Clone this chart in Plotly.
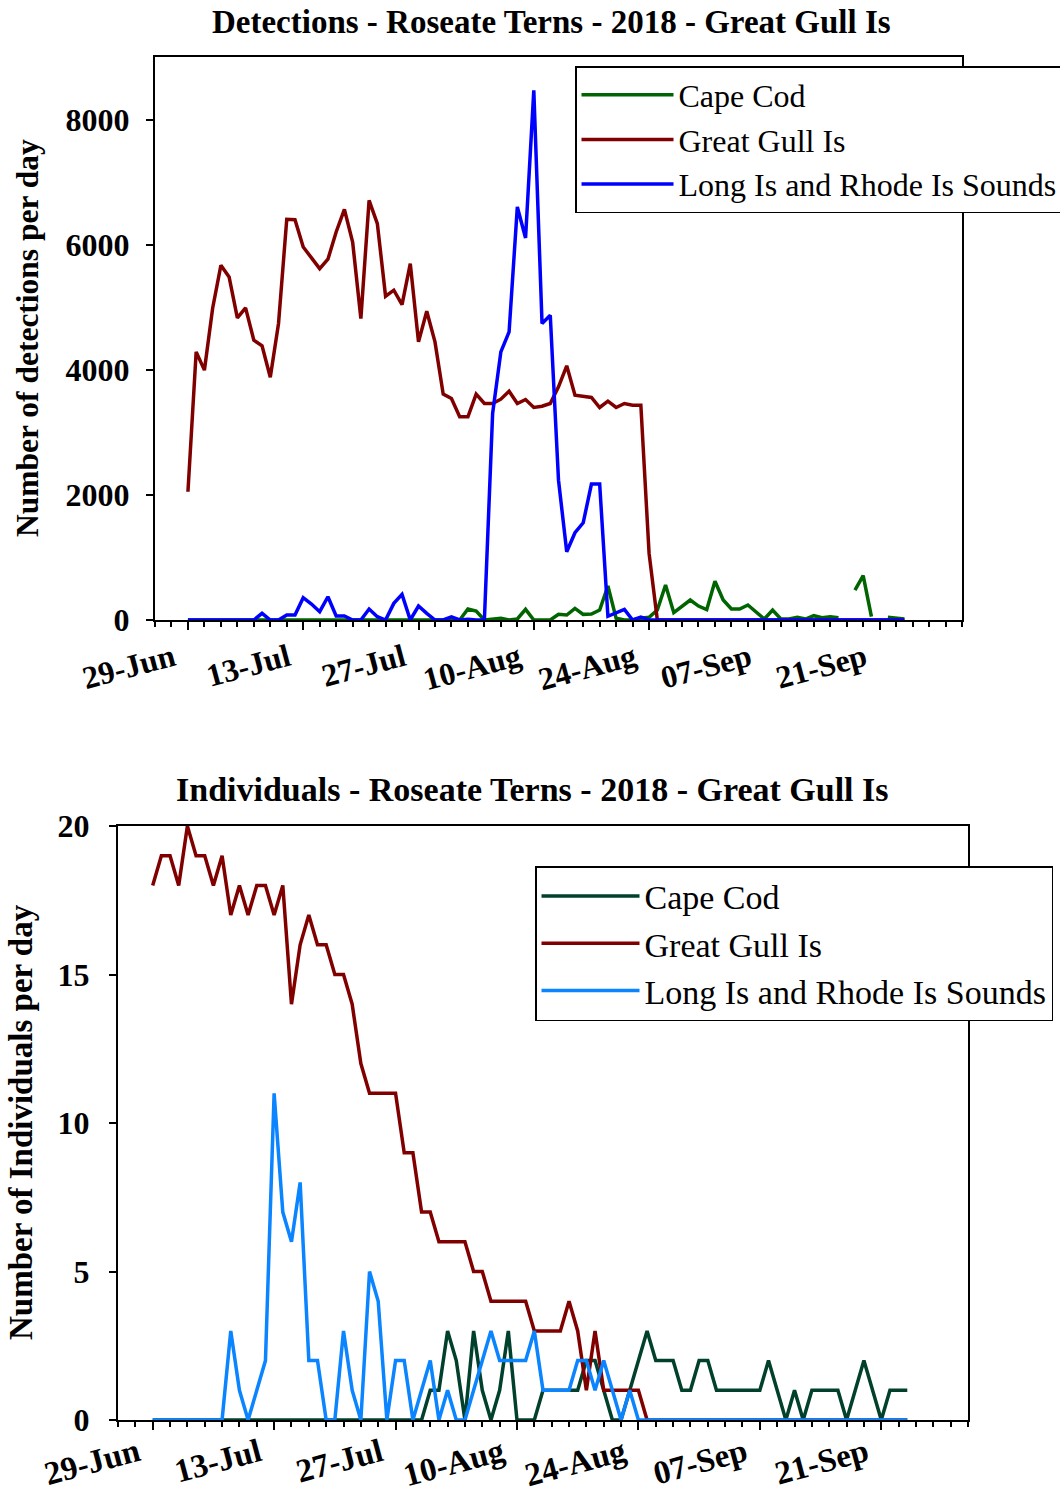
import plotly.graph_objects as go
import pandas as pd

# ---------------- data ----------------
start_date = "2018-06-29"
n_days = 88

tick_dates = ["2018-06-29", "2018-07-13", "2018-07-27", "2018-08-10",
              "2018-08-24", "2018-09-07", "2018-09-21"]
tick_labels = ["29-Jun", "13-Jul", "27-Jul", "10-Aug", "24-Aug", "07-Sep", "21-Sep"]

series_names = ["Cape Cod", "Great Gull Is", "Long Is and Rhode Is Sounds"]

# Detections per day (top chart)
det_cape_cod = [0] * 33 + [
    0, 176, 144, 0, 16, 27, 0, 16, 170, 0, 0, 0, 90, 80, 186, 90, 96, 160, 543, 27,
    0, 0, 27, 43, 160, 559, 117, 223, 319, 223, 165, 620, 319, 176, 176, 240, 133,
    16, 160, 16, 16, 43, 16, 69, 37, 53, 37, None, 479, 708, 53, None, 43, 30, 16]

det_great_gull = [
    2050, 4286, 3994, 4984, 5670, 5484, 4830, 4990, 4473, 4382, 3880, 4740, 6406,
    6400, 5963, 5800, 5617, 5767, 6203, 6565, 6043, 4819, 6709, 6337, 5176, 5272,
    5043, 5698, 4446, 4936, 4446, 3610, 3541, 3248, 3248, 3610, 3461, 3461, 3530,
    3658, 3461, 3525, 3397, 3418, 3461, 3727, 4063, 3594, 3578, 3557, 3397, 3498,
    3397, 3461, 3434, 3434, 1065] + [0] * 31

det_long_is = [0] * 9 + [
    107, 0, 0, 80, 80, 356, 255, 133, 372, 64, 64, 0, 0, 176, 53, 0, 266, 410, 0,
    224, 107, 0, 0, 50, 0, 10, 0, 0, 3302, 4286, 4606, 6603, 6107, 8466, 4739,
    4872, 2236, 1091, 1395, 1554, 2173, 2173, 60, 110, 170, 0, 45] + [0] * 32

# Individuals per day (bottom chart)
ind_cape_cod = [0] * 32 + [
    1, 1, 3, 2, 0, 3, 1, 0, 1, 3, 0, 0, 0, 1, 1, 1, 1, 1, 2, 2, 1, 0, 0, 1, 2, 3,
    2, 2, 2, 1, 1, 2, 2, 1, 1, 1, 1, 1, 1, 2, 1, 0, 1, 0, 1, 1, 1, 1, 0, 1, 2, 1,
    0, 1, 1, 1]

ind_great_gull = [
    18, 19, 19, 18, 20, 19, 19, 18, 19, 17, 18, 17, 18, 18, 17, 18, 14, 16, 17,
    16, 16, 15, 15, 14, 12, 11, 11, 11, 11, 9, 9, 7, 7, 6, 6, 6, 6, 5, 5, 4, 4, 4,
    4, 4, 3, 3, 3, 3, 4, 3, 1, 3, 1, 1, 1, 1, 1, 0] + [0] * 30

ind_long_is = [0] * 9 + [
    3, 1, 0, 1, 2, 11, 7, 6, 8, 2, 2, 0, 0, 3, 1, 0, 5, 4, 0, 2, 2, 0, 1, 2, 0, 1,
    0, 0, 1, 2, 3, 2, 2, 2, 2, 3, 1, 1, 1, 1, 2, 2, 1, 2, 1, 0, 1, 0] + [0] * 31

dates = pd.date_range(start_date, periods=n_days, freq="D")

# ---------------- figure ----------------
W, H = 1060, 1494
FONT = "Liberation Serif, Times New Roman, serif"

top_colors = ["#006400", "#800000", "#0000FF"]
bot_colors = ["#00402C", "#800000", "#0A84FF"]

fig = go.Figure()
for name, vals, col in zip(series_names, [det_cape_cod, det_great_gull, det_long_is], top_colors):
    fig.add_trace(go.Scatter(x=dates, y=vals, name=name, mode="lines",
                             line=dict(color=col, width=3.5), cliponaxis=False,
                             xaxis="x", yaxis="y", legend="legend"))
for name, vals, col in zip(series_names, [ind_cape_cod, ind_great_gull, ind_long_is], bot_colors):
    fig.add_trace(go.Scatter(x=dates, y=vals, name=name, mode="lines",
                             line=dict(color=col, width=3.5), cliponaxis=False,
                             xaxis="x2", yaxis="y2", legend="legend2"))


def px_x(p):
    return p / W


def px_y(p):
    return 1 - p / H


def xaxis_style(domain, anchor, fsize, standoff):
    return dict(
        domain=domain, anchor=anchor, type="date", automargin=False,
        range=["2018-06-25", "2018-10-01"],
        tickmode="array", tickvals=tick_dates, ticktext=tick_labels,
        tickangle=-15, ticks="outside", ticklen=8, tickwidth=1.5, tickcolor="black",
        tickfont=dict(family=FONT, size=fsize, color="black", weight="bold"),
        minor=dict(dtick=2 * 86400000, tick0=start_date, ticks="outside",
                   ticklen=5, tickwidth=1.5, tickcolor="black", showgrid=False),
        showline=True, linecolor="black", linewidth=2, mirror=True,
        showgrid=False, zeroline=False, layer="below traces",
        ticklabelstandoff=standoff, ticklabelshift=-15,
    )


def yaxis_style(domain, anchor, rng, dtick, fsize, standoff):
    return dict(
        domain=domain, anchor=anchor, range=rng, dtick=dtick, tick0=0,
        automargin=False,
        ticks="outside", ticklen=7, tickwidth=1.5, tickcolor="black",
        tickfont=dict(family=FONT, size=fsize, color="black", weight="bold"),
        showline=True, linecolor="black", linewidth=2, mirror=True,
        showgrid=False, zeroline=False, layer="below traces",
        ticklabelstandoff=standoff,
    )


fig.update_layout(
    width=W, height=H,
    margin=dict(l=0, r=0, t=0, b=0, autoexpand=False),
    paper_bgcolor="white", plot_bgcolor="white",
    font=dict(family=FONT, color="black"),
    xaxis=xaxis_style([px_x(155), px_x(962)], "y", 32, -3),
    yaxis=yaxis_style([px_y(620), px_y(57)], "x", [0, 9000], 2000, 32, 10),
    xaxis2=xaxis_style([px_x(118), px_x(968)], "y2", 33, -9),
    yaxis2=yaxis_style([px_y(1420), px_y(826)], "x2", [0, 20], 5, 32, 13),
    legend=dict(x=px_x(575), y=px_y(66), xanchor="left", yanchor="top",
                bgcolor="white", bordercolor="black", borderwidth=1.5,
                font=dict(family=FONT, size=32, color="black"), itemwidth=92),
    legend2=dict(x=px_x(535), y=px_y(866), xanchor="left", yanchor="top",
                 bgcolor="white", bordercolor="black", borderwidth=1.5,
                 font=dict(family=FONT, size=34, color="black"), itemwidth=98),
    showlegend=True,
    annotations=[
        dict(text="Detections - Roseate Terns - 2018 - Great Gull Is",
             x=px_x(551), y=px_y(22), xref="paper", yref="paper",
             xanchor="center", yanchor="middle", showarrow=False,
             font=dict(family=FONT, size=33, color="black", weight="bold")),
        dict(text="Individuals - Roseate Terns - 2018 - Great Gull Is",
             x=px_x(532), y=px_y(789), xref="paper", yref="paper",
             xanchor="center", yanchor="middle", showarrow=False,
             font=dict(family=FONT, size=34, color="black", weight="bold")),
        dict(text="Number of detections per day",
             x=px_x(27), y=px_y(338), xref="paper", yref="paper",
             xanchor="center", yanchor="middle", showarrow=False, textangle=-90,
             font=dict(family=FONT, size=31.5, color="black", weight="bold")),
        dict(text="Number of Individuals per day",
             x=px_x(21), y=px_y(1122), xref="paper", yref="paper",
             xanchor="center", yanchor="middle", showarrow=False, textangle=-90,
             font=dict(family=FONT, size=33, color="black", weight="bold")),
    ],
)

fig.write_html("out.html",
               config={"displayModeBar": False},
               post_script="document.body.style.margin='0px';"
                           "document.body.style.overflow='hidden';")
